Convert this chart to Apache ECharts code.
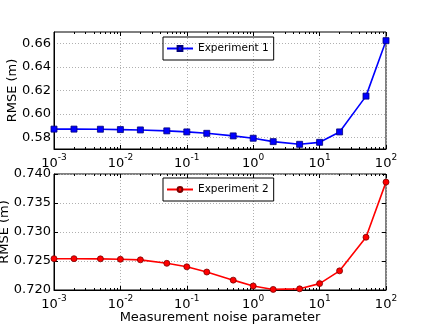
<!DOCTYPE html>
<html>
<head>
<meta charset="utf-8">
<script src="https://cdn.jsdelivr.net/npm/echarts@6/dist/echarts.min.js"></script>
<style>
  html, body { margin: 0; padding: 0; background: #fff; }
  #chart { width: 429px; height: 324px; }
</style>
</head>
<body>
<div id="chart"></div>
<script>
// noise parameter sweep, two experiments, matplotlib-style look
const noiseParam = [0.001, 0.002, 0.005, 0.01, 0.02, 0.05, 0.1, 0.2, 0.5, 1, 2, 5, 10, 20, 50, 100];
const rmseExp1 = [0.5870, 0.5870, 0.5869, 0.5866, 0.5863, 0.5855, 0.5846, 0.5834, 0.5812, 0.5792, 0.5763, 0.5740, 0.5757, 0.5846, 0.6152, 0.6626];
const rmseExp2 = [0.7254, 0.7254, 0.72537, 0.7253, 0.7252, 0.7246, 0.7240, 0.7231, 0.7217, 0.7207, 0.7201, 0.7202, 0.7211, 0.7233, 0.7291, 0.7386];
const minorTicks = [];
for (let e = -3; e < 2; e++) for (let k = 2; k <= 9; k++) minorTicks.push(+(k * Math.pow(10, e)).toPrecision(3));

const FONT = 'DejaVu Sans';
const chart = echarts.init(document.getElementById('chart'), null, { renderer: 'canvas' });

const GRIDS = [
  { left: 54, top: 32, width: 332, height: 117, show: true, borderColor: '#000', borderWidth: 1, outerBoundsMode: 'none', containLabel: false },
  { left: 54, top: 174, width: 332, height: 116, show: true, borderColor: '#000', borderWidth: 1, outerBoundsMode: 'none', containLabel: false },
];

function supLabel(v) {
  const e = Math.round(Math.log10(v));
  return '{b|10}{s|' + (e < 0 ? '-' + (-e) : e) + '}';
}

function xAxes(gi, isLast) {
  const base = { type: 'log', gridIndex: gi, min: 0.001, max: 100, logBase: 10 };
  return [
    Object.assign({}, base, {
      position: 'bottom',
      axisLine: { show: true, onZero: false, lineStyle: { color: '#000' } },
      axisTick: { inside: true, length: 4, lineStyle: { color: '#000' } },
      splitLine: { show: true, lineStyle: { color: '#b0b0b0', type: [1, 2] } },
      axisLabel: {
        margin: 4, formatter: supLabel, color: '#000',
        rich: {
          b: { fontFamily: FONT, fontSize: 13, color: '#000', verticalAlign: 'bottom' },
          s: { fontFamily: FONT, fontSize: 9, color: '#000', verticalAlign: 'top', padding: [0, 0, 8, 0] },
        },
      },
      name: isLast ? 'Measurement noise parameter' : '',
      nameLocation: 'middle', nameGap: 21, nameMoveOverlap: false,
      nameTextStyle: { fontFamily: FONT, fontSize: 13, color: '#000' },
    }),
    Object.assign({}, base, {
      position: 'top', axisLine: { show: false, onZero: false },
      axisTick: { inside: true, length: 4, lineStyle: { color: '#000' } },
      axisLabel: { show: false }, splitLine: { show: false },
    }),
    Object.assign({}, base, {
      position: 'bottom', axisLine: { show: false, onZero: false },
      axisTick: { inside: true, length: 2, customValues: minorTicks, lineStyle: { color: '#000' } },
      axisLabel: { show: false }, splitLine: { show: false },
    }),
    Object.assign({}, base, {
      position: 'top', axisLine: { show: false, onZero: false },
      axisTick: { inside: true, length: 2, customValues: minorTicks, lineStyle: { color: '#000' } },
      axisLabel: { show: false }, splitLine: { show: false },
    }),
  ];
}

function yAxes(gi, min, max, interval, fmt, gap, skipOdd) {
  return [
    {
      type: 'value', gridIndex: gi, min, max, interval, position: 'left',
      axisLine: { show: true, onZero: false, lineStyle: { color: '#000' } },
      axisTick: { inside: true, length: skipOdd ? 0 : 4, lineStyle: { color: '#000' } },
      splitLine: { show: true, lineStyle: { color: skipOdd ? ['rgba(0,0,0,0)', '#b0b0b0'] : '#b0b0b0', type: [1, 2] } },
      axisLabel: { margin: 3, fontFamily: FONT, fontSize: 13, color: '#000', formatter: fmt },
      name: 'RMSE (m)', nameLocation: 'middle', nameGap: gap, nameRotate: 90, nameMoveOverlap: false,
      nameTextStyle: { fontFamily: FONT, fontSize: 13, color: '#000' },
    },
    {
      type: 'value', gridIndex: gi, min, max, interval, position: 'right',
      axisLine: { show: false, onZero: false },
      axisTick: { inside: true, length: skipOdd ? 0 : 4, lineStyle: { color: '#000' } },
      axisLabel: { show: false }, splitLine: { show: false },
    },
  ];
}

const pairs1 = noiseParam.map((x, i) => [x, rmseExp1[i]]);
const pairs2 = noiseParam.map((x, i) => [x, rmseExp2[i]]);

const legendBase = {
  orient: 'vertical', borderColor: '#000', borderWidth: 1, borderRadius: 0,
  padding: [6, 5, 6, 3], itemWidth: 26, itemHeight: 6, itemGap: 4,
  textStyle: { fontFamily: FONT, fontSize: 10.5, color: '#000' },
};

chart.setOption({
  animation: false,
  grid: GRIDS,
  xAxis: [...xAxes(0, false), ...xAxes(1, true)],
  yAxis: [
    ...yAxes(0, 0.57, 0.67, 0.01,
      (v) => (Math.round(v * 100) % 2 === 0 ? v.toFixed(2) : ''), 35, true),
    ...yAxes(1, 0.72, 0.74, 0.005, (v) => v.toFixed(3), 43, false),
  ],
  legend: [
    Object.assign({}, legendBase, { data: ['Experiment 1'], left: 163, top: 37 }),
    Object.assign({}, legendBase, { data: ['Experiment 2'], left: 163, top: 178 }),
  ],
  series: [
    {
      name: 'Experiment 1', type: 'line', xAxisIndex: 0, yAxisIndex: 0,
      data: pairs1, symbol: 'rect', symbolSize: 6,
      lineStyle: { color: '#0000ff', width: 1.6 },
      itemStyle: { color: '#0000ff', borderColor: '#00007a', borderWidth: 0.8 },
    },
    {
      name: 'Experiment 2', type: 'line', xAxisIndex: 4, yAxisIndex: 2,
      data: pairs2, symbol: 'circle', symbolSize: 6,
      lineStyle: { color: '#ff0000', width: 1.6 },
      itemStyle: { color: '#ff0000', borderColor: '#7a0000', borderWidth: 0.8 },
    },
  ],
});
</script>
</body>
</html>
